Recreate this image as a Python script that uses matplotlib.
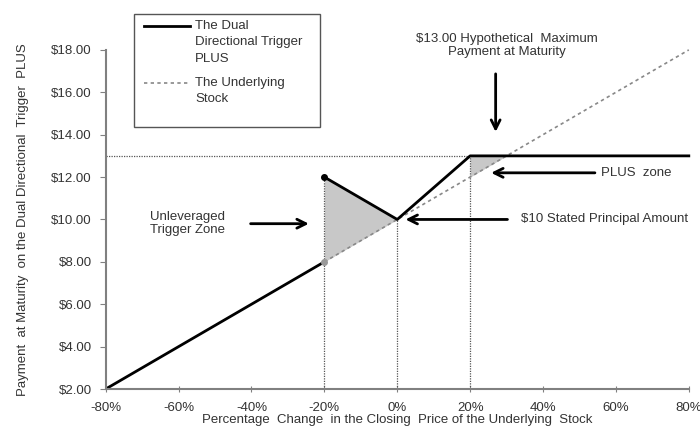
import numpy as np
from matplotlib import pyplot as plt
from matplotlib.lines import Line2D
from matplotlib.patches import Rectangle

plt.rcParams['font.family'] = ['Liberation Sans', 'DejaVu Sans']

# payoff of the notes, in % change vs $ payment
plus_x = [-80, -20]
plus_y = [2, 8]
plus_up_x = [-20, 0, 20, 80]
plus_up_y = [12, 10, 13, 13]

stock_x = [-20, 80]
stock_y = [8, 18]

trigger_x = [-20, 0]
trigger_top = [12, 10]
trigger_bottom = [8, 10]

zone_x = [20, 30]
zone_top = [13, 13]
zone_bottom = [12, 13]

x_ticks = [-80, -60, -40, -20, 0, 20, 40, 60, 80]
y_ticks = [2, 4, 6, 8, 10, 12, 14, 16, 18]

text_color = '#333333'
axis_color = '#808080'
fill_color = '#c8c8c8'

W, H = 700, 432
fig = plt.figure(figsize=(7, 4.32), dpi=100)
ax = fig.add_axes([0.151, 0.0995, 0.833, 0.785])

ax.fill_between(trigger_x, trigger_bottom, trigger_top, color=fill_color, lw=0)
ax.fill_between(zone_x, zone_bottom, zone_top, color=fill_color, lw=0)

ax.hlines(13, -80, 20, color='#555555', lw=0.9, linestyles=(0, (1, 1)))
for x, top in [(-20, 12), (0, 10), (20, 13)]:
    ax.vlines(x, 2, top, color='#555555', lw=0.9, linestyles=(0, (1, 1)))

stock_style = dict(color='#888888', lw=1.2, ls=(0, (2, 2)))
plus_style = dict(color='black', lw=2)
ax.plot(stock_x, stock_y, clip_on=False, **stock_style)
ax.plot(plus_x, plus_y, **plus_style)
ax.plot(plus_up_x, plus_up_y, clip_on=False, **plus_style)
ax.plot([-20], [12], 'o', color='black', ms=4)
ax.plot([-20], [8], 'o', color='#999999', ms=4)

ax.set_xlim(-80, 80)
ax.set_ylim(2, 18)
ax.set_xticks(x_ticks)
ax.set_xticklabels([f'{v}%' for v in x_ticks])
ax.set_yticks(y_ticks)
ax.set_yticklabels([f'${v:.2f}' for v in y_ticks])
ax.tick_params(colors=axis_color, labelcolor=text_color, labelsize=9.5, length=4)
ax.tick_params(axis='x', direction='inout', pad=7)
ax.tick_params(axis='y', pad=6)
for s in ['top', 'right']:
    ax.spines[s].set_visible(False)
for s in ['left', 'bottom']:
    ax.spines[s].set_color(axis_color)
    ax.spines[s].set_linewidth(1.5)

ax.set_xlabel('Percentage  Change  in the Closing  Price of the Underlying  Stock',
              color=text_color, fontsize=9.5, labelpad=0)
ax.set_ylabel('Payment  at Maturity  on the Dual Directional  Trigger  PLUS',
              color=text_color, fontsize=9.5, labelpad=16)

# legend box drawn by hand so the handles sit on the first text line
def fx(px):
    return px / W

def fy(py):
    return 1 - py / H

fig.add_artist(Rectangle((fx(134), fy(127)), fx(320) - fx(134), fy(14) - fy(127),
                         transform=fig.transFigure, fill=False,
                         edgecolor='#555555', lw=1))
fig.add_artist(Line2D([fx(144), fx(190)], [fy(26), fy(26)],
                      transform=fig.transFigure, **plus_style))
fig.add_artist(Line2D([fx(144), fx(188)], [fy(83), fy(83)],
                      transform=fig.transFigure, **stock_style))
fig.text(fx(195), fy(20), 'The Dual\nDirectional Trigger\nPLUS', ha='left', va='top',
         fontsize=9.5, color=text_color, linespacing=1.5)
fig.text(fx(195), fy(77), 'The Underlying\nStock', ha='left', va='top',
         fontsize=9.5, color=text_color, linespacing=1.5)

arrow = dict(arrowstyle='->', color='black', lw=2, mutation_scale=16)
ax.annotate('', xy=(27, 14.0), xytext=(27, 17.0), arrowprops=arrow)
ax.text(30, 17.6, '$13.00 Hypothetical  Maximum\nPayment at Maturity',
        ha='center', va='bottom', fontsize=9.5, color=text_color, linespacing=1.15)

ax.annotate('', xy=(25, 12.2), xytext=(55, 12.2), arrowprops=arrow)
ax.text(56, 12.2, 'PLUS  zone', ha='left', va='center', fontsize=9.5, color=text_color)

ax.annotate('', xy=(1.5, 10), xytext=(31, 10), arrowprops=arrow)
ax.text(34, 10, '$10 Stated Principal Amount', ha='left', va='center',
        fontsize=9.5, color=text_color)

ax.annotate('', xy=(-23.5, 9.8), xytext=(-41, 9.8), arrowprops=arrow)
ax.text(-57.5, 9.8, 'Unleveraged\nTrigger Zone', ha='center', va='center',
        fontsize=9.5, color=text_color, linespacing=1.15)

fig.savefig('out.png', dpi=100)
